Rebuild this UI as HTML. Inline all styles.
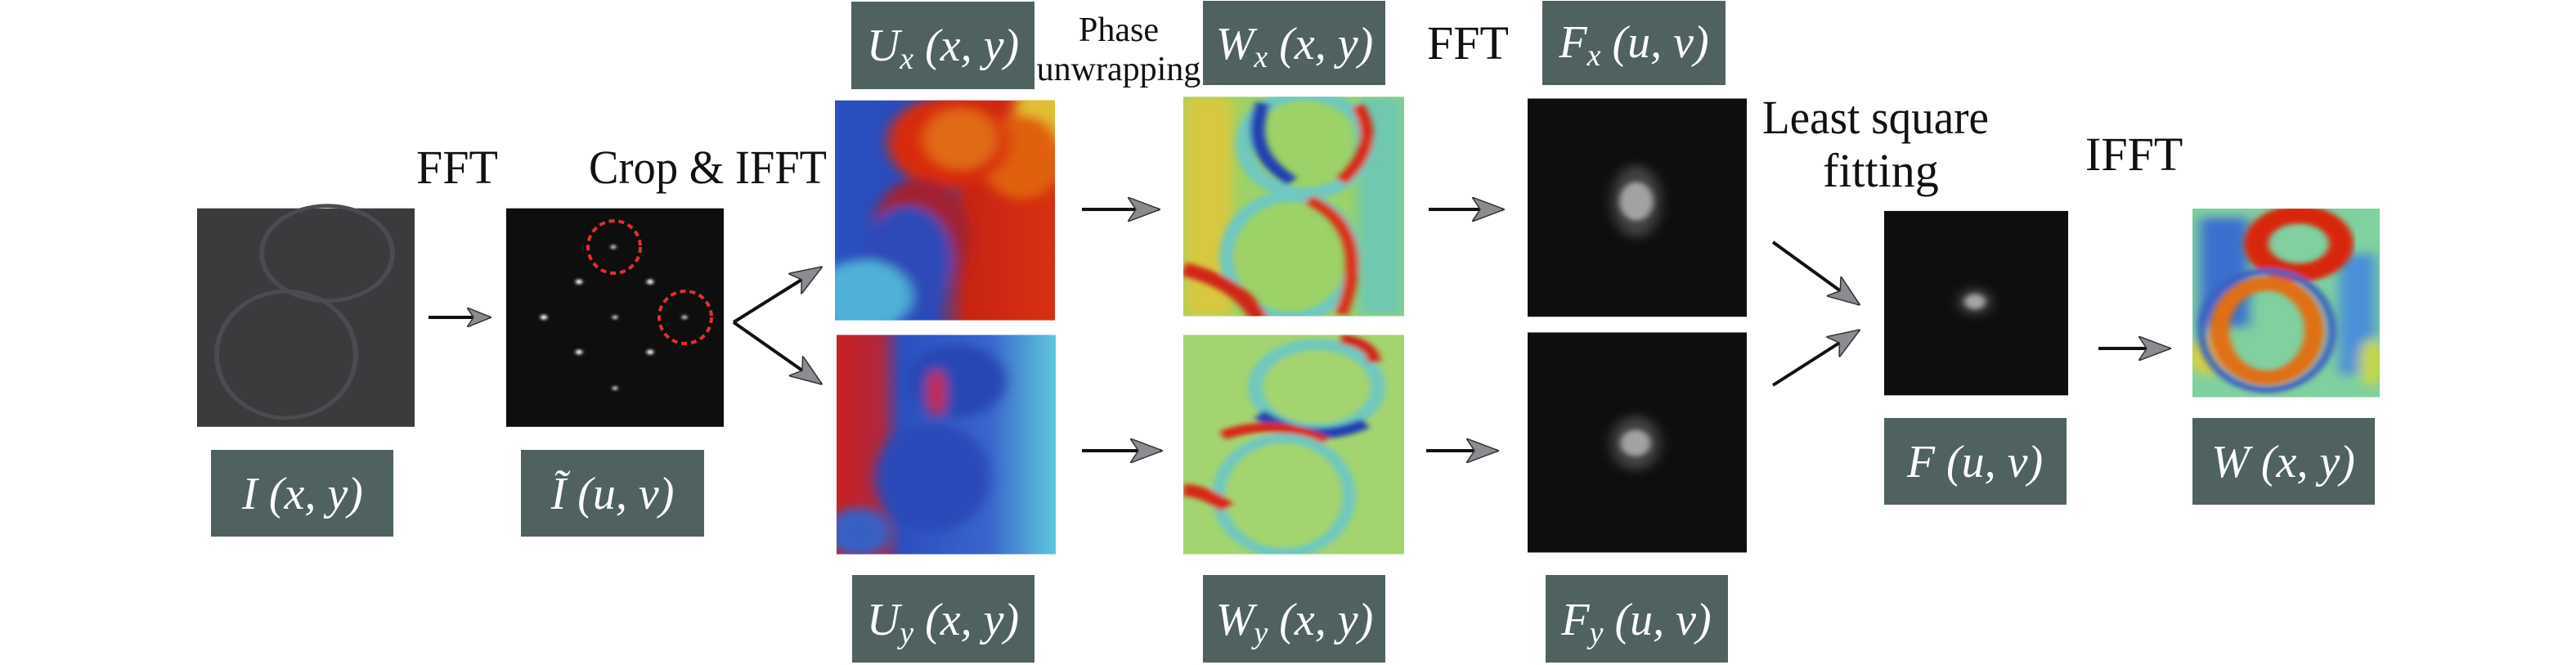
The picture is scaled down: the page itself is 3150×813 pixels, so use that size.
<!DOCTYPE html>
<html><head><meta charset="utf-8"><style>
html,body{margin:0;padding:0;background:#fff;overflow:hidden;}
svg{display:block;}
</style></head><body>
<svg width="3150" height="813" viewBox="0 0 3150 813" xmlns="http://www.w3.org/2000/svg">
<defs>
<filter id="b8"><feGaussianBlur stdDeviation="8"/></filter>
<filter id="b4"><feGaussianBlur stdDeviation="4"/></filter>
<filter id="b2"><feGaussianBlur stdDeviation="2"/></filter>
<clipPath id="cUx"><rect x="1021" y="166" width="269" height="364"/></clipPath>
<clipPath id="cUy"><rect x="1023" y="554" width="268" height="363"/></clipPath>
<clipPath id="cWx"><rect x="1447" y="160" width="270" height="363"/></clipPath>
<clipPath id="cWy"><rect x="1447" y="554" width="270" height="363"/></clipPath>
<clipPath id="cW"><rect x="2681" y="345" width="229" height="312"/></clipPath>
<linearGradient id="gUx" x1="0" x2="1" y1="0" y2="0">
<stop offset="0" stop-color="#2a50c0"/><stop offset="0.45" stop-color="#2a4ab8"/><stop offset="0.6" stop-color="#c82414"/><stop offset="1" stop-color="#d83010"/></linearGradient>
<linearGradient id="gUy" x1="0" x2="1" y1="0" y2="0">
<stop offset="0" stop-color="#c82020"/><stop offset="0.2" stop-color="#b02840"/><stop offset="0.3" stop-color="#2d4fbf"/><stop offset="0.7" stop-color="#3a66cc"/><stop offset="1" stop-color="#5ec8dc"/></linearGradient>
<marker id="ah" viewBox="0 0 30 24" refX="28" refY="12" markerWidth="30" markerHeight="24" markerUnits="userSpaceOnUse" orient="auto">
<path d="M0,0 L30,12 L0,24 L8,12 Z" fill="#8a8c90" stroke="#333" stroke-width="1.5"/></marker>
<marker id="ah2" viewBox="0 0 40 30" refX="38" refY="15" markerWidth="40" markerHeight="30" markerUnits="userSpaceOnUse" orient="auto">
<path d="M0,0 L40,15 L0,30 L10,15 Z" fill="#8a8c90" stroke="#333" stroke-width="1.5"/></marker>
</defs>

<g transform="scale(1,0.7742)">
<rect x="241" y="329" width="266" height="345" fill="#3a3b3d"/>
<ellipse cx="400" cy="400" rx="80" ry="75" fill="none" stroke="#4a4c4f" stroke-width="6"/>
<ellipse cx="350" cy="560" rx="85" ry="100" fill="none" stroke="#4a4c4f" stroke-width="6"/>
<rect x="619" y="329" width="266" height="345" fill="#0e0e0e"/>
<g fill="#fff" filter="url(#b2)">
<circle cx="708" cy="445" r="4"/><circle cx="795" cy="445" r="4"/><circle cx="665" cy="501" r="4"/><circle cx="752" cy="501" r="3"/><circle cx="708" cy="556" r="4"/><circle cx="795" cy="556" r="4"/><circle cx="752" cy="613" r="3"/><circle cx="750" cy="390" r="3"/><circle cx="837" cy="501" r="3"/></g>
</g>
<ellipse cx="751" cy="302" rx="32" ry="32" fill="none" stroke="#e03030" stroke-width="4" stroke-dasharray="7,5"/>
<ellipse cx="838" cy="388" rx="32" ry="32" fill="none" stroke="#e03030" stroke-width="4" stroke-dasharray="7,5"/>

<g transform="scale(1,0.739)">
<g clip-path="url(#cUx)">
<rect x="1021" y="166" width="269" height="364" fill="url(#gUx)"/>
<g filter="url(#b8)">
<ellipse cx="1280" cy="190" rx="40" ry="60" fill="#e0c030"/>
<ellipse cx="1250" cy="260" rx="50" ry="70" fill="#e06010"/>
<ellipse cx="1160" cy="235" rx="75" ry="75" fill="#d82a10"/>
<ellipse cx="1175" cy="230" rx="45" ry="50" fill="#e06a18"/>
<ellipse cx="1125" cy="395" rx="60" ry="100" fill="#a02030"/>
<ellipse cx="1110" cy="430" rx="55" ry="90" fill="#2d48b8"/>
<ellipse cx="1055" cy="490" rx="60" ry="60" fill="#50b0d8"/>
</g></g>
<g clip-path="url(#cUy)">
<rect x="1023" y="554" width="268" height="363" fill="url(#gUy)"/>
<g filter="url(#b8)">
<ellipse cx="1170" cy="630" rx="60" ry="60" fill="#2846b4"/>
<ellipse cx="1140" cy="790" rx="70" ry="90" fill="#2a4ab8"/>
<ellipse cx="1050" cy="880" rx="40" ry="40" fill="#3860c4"/>
<ellipse cx="1145" cy="650" rx="10" ry="40" fill="#d02020"/>
</g></g>
<g clip-path="url(#cWx)">
<rect x="1447" y="160" width="270" height="363" fill="#9cd268"/>
<g filter="url(#b8)">
<rect x="1447" y="160" width="60" height="363" fill="#d8c840"/>
<rect x="1660" y="160" width="57" height="363" fill="#70c8b0"/>
</g>
<g filter="url(#b4)" fill="none">
<ellipse cx="1596" cy="238" rx="75" ry="82" stroke="#70c8c0" stroke-width="20"/>
<path d="M1545,170 Q1520,250 1580,300" stroke="#2040b0" stroke-width="18"/>
<path d="M1660,175 Q1690,240 1640,300" stroke="#d82818" stroke-width="16"/>
<ellipse cx="1578" cy="425" rx="78" ry="100" stroke="#70c8c0" stroke-width="18"/>
<path d="M1600,330 Q1680,380 1640,520" stroke="#d83018" stroke-width="16"/>
<path d="M1447,445 Q1520,470 1540,530" stroke="#d02818" stroke-width="22"/>
</g></g>
<g clip-path="url(#cWy)">
<rect x="1447" y="554" width="270" height="363" fill="#a4d470"/>
<g filter="url(#b4)" fill="none">
<ellipse cx="1610" cy="640" rx="75" ry="70" stroke="#70c8c0" stroke-width="18"/>
<path d="M1540,685 Q1600,740 1670,700" stroke="#2040b0" stroke-width="18"/>
<path d="M1640,560 Q1680,570 1680,600" stroke="#d02018" stroke-width="16"/>
<path d="M1495,720 Q1560,690 1620,730" stroke="#d82818" stroke-width="16"/>
<ellipse cx="1570" cy="820" rx="80" ry="95" stroke="#70c8c0" stroke-width="16"/>
<path d="M1447,810 Q1480,815 1500,840" stroke="#d82818" stroke-width="20"/>
</g></g>
<rect x="1868" y="163" width="268" height="361" fill="#0e0e0e"/>
<rect x="1868" y="550" width="268" height="364" fill="#0e0e0e"/>
<rect x="2304" y="349" width="225" height="305" fill="#0e0e0e"/>
<g filter="url(#b4)" fill="#fff">
<ellipse cx="2001" cy="333" rx="20" ry="32"/>
<ellipse cx="2000" cy="733" rx="18" ry="22"/>
<ellipse cx="2415" cy="499" rx="12" ry="12"/>
</g>
<g filter="url(#b8)" fill="#666" opacity="0.6">
<ellipse cx="2001" cy="333" rx="30" ry="60"/>
<ellipse cx="2000" cy="733" rx="30" ry="45"/>
<ellipse cx="2415" cy="499" rx="20" ry="22"/>
</g>
<g clip-path="url(#cW)">
<rect x="2681" y="345" width="229" height="312" fill="#80d0a0"/>
<g filter="url(#b8)">
<rect x="2690" y="360" width="60" height="180" fill="#3a70d0"/>
<rect x="2860" y="420" width="45" height="200" fill="#4a90d8"/>
<ellipse cx="2700" cy="590" rx="25" ry="30" fill="#d8d040"/>
<ellipse cx="2900" cy="600" rx="15" ry="40" fill="#c8d840"/>
</g>
<g filter="url(#b4)" fill="none">
<ellipse cx="2811" cy="403" rx="52" ry="48" stroke="#d82810" stroke-width="30"/>
<ellipse cx="2772" cy="547" rx="58" ry="78" stroke="#e07018" stroke-width="24"/>
<ellipse cx="2772" cy="547" rx="80" ry="98" stroke="#3a60c0" stroke-width="10"/>
</g></g>
</g>

<g stroke="#111" stroke-width="4" fill="none">
<line x1="524" y1="388" x2="599" y2="388" marker-end="url(#ah)"/>
<line x1="897" y1="394" x2="1004" y2="327" marker-end="url(#ah2)"/>
<line x1="897" y1="394" x2="1004" y2="469" marker-end="url(#ah2)"/>
<line x1="1323" y1="256" x2="1417" y2="256" marker-end="url(#ah2)"/>
<line x1="1747" y1="256" x2="1838" y2="256" marker-end="url(#ah2)"/>
<line x1="1323" y1="551" x2="1420" y2="551" marker-end="url(#ah2)"/>
<line x1="1744" y1="551" x2="1831" y2="551" marker-end="url(#ah2)"/>
<line x1="2168" y1="296" x2="2273" y2="372" marker-end="url(#ah2)"/>
<line x1="2168" y1="471" x2="2273" y2="404" marker-end="url(#ah2)"/>
<line x1="2566" y1="426" x2="2653" y2="426" marker-end="url(#ah2)"/>
</g>

<g fill="#4f6260">
<rect x="258" y="550" width="223" height="106"/>
<rect x="637" y="550" width="224" height="106"/>
<rect x="1041" y="2" width="224" height="107"/>
<rect x="1471" y="1" width="223" height="103"/>
<rect x="1886" y="1" width="224" height="103"/>
<rect x="1042" y="703" width="223" height="107"/>
<rect x="1471" y="703" width="223" height="107"/>
<rect x="1890" y="703" width="223" height="107"/>
<rect x="2304" y="511" width="223" height="106"/>
<rect x="2681" y="511" width="223" height="106"/>
</g>
<g font-family="Liberation Serif, DejaVu Serif, serif" font-style="italic" fill="#fff" font-size="56" text-anchor="middle">
<text x="370" y="622">I (x, y)</text>
<text x="749" y="622">Ĩ (u, v)</text>
<text x="1153" y="74">U<tspan font-size="38" dy="10">x</tspan><tspan dy="-10"> (x, y)</tspan></text>
<text x="1583" y="72">W<tspan font-size="38" dy="10">x</tspan><tspan dy="-10"> (x, y)</tspan></text>
<text x="1998" y="70">F<tspan font-size="38" dy="10">x</tspan><tspan dy="-10"> (u, v)</tspan></text>
<text x="1153" y="776">U<tspan font-size="38" dy="10">y</tspan><tspan dy="-10"> (x, y)</tspan></text>
<text x="1583" y="776">W<tspan font-size="38" dy="10">y</tspan><tspan dy="-10"> (x, y)</tspan></text>
<text x="2001" y="776">F<tspan font-size="38" dy="10">y</tspan><tspan dy="-10"> (u, v)</tspan></text>
<text x="2415" y="583">F (u, v)</text>
<text x="2792" y="583">W (x, y)</text>
</g>
<g font-family="Liberation Serif, DejaVu Serif, serif" fill="#111" font-size="58">
<text x="509" y="224">FFT</text>
<text x="720" y="224" textLength="291" lengthAdjust="spacingAndGlyphs">Crop &amp; IFFT</text>
<text x="1745" y="72">FFT</text>
<text x="2155" y="163" textLength="277" lengthAdjust="spacingAndGlyphs">Least square</text>
<text x="2229" y="228">fitting</text>
<text x="2550" y="208">IFFT</text>
</g>
<g font-family="Liberation Serif, DejaVu Serif, serif" fill="#111" font-size="42" text-anchor="middle">
<text x="1368" y="50">Phase</text>
<text x="1368" y="98">unwrapping</text>
</g>
</svg>
</body></html>
